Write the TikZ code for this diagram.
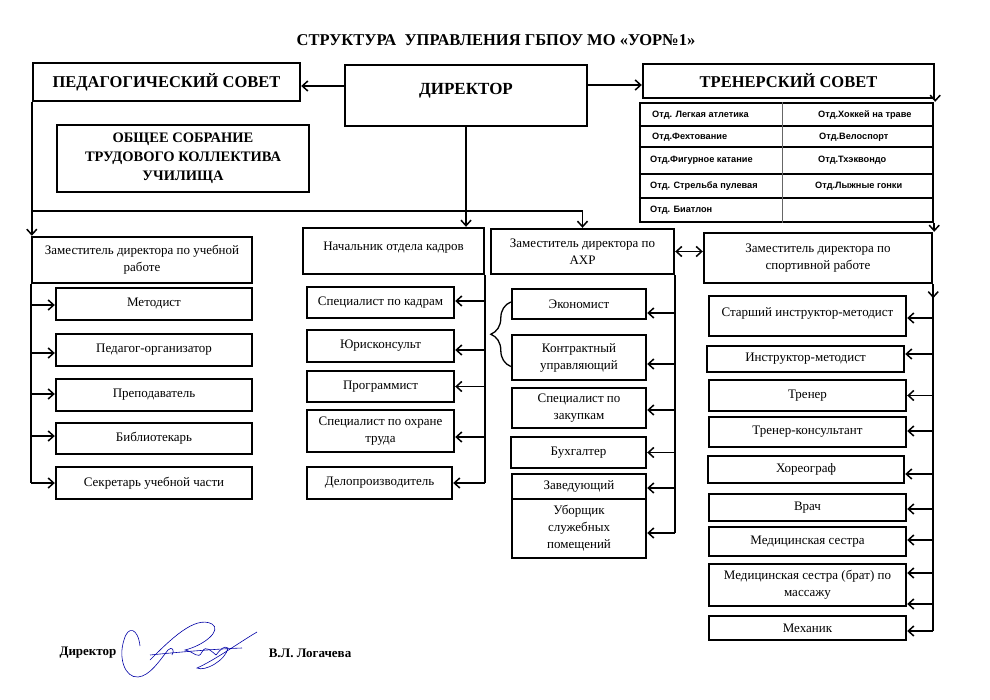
\documentclass[tikz,border=0pt]{standalone}
\usepackage{fontspec}
\setmainfont{Liberation Serif}
\newfontfamily\tabfont{Liberation Sans}
\usetikzlibrary{arrows.meta,decorations.pathreplacing}

\newcommand\mybox[7][]{%
  \node[box,minimum width={(#5-#3)*1pt},minimum height={(#6-#4)*1pt},#1] (#2) at ({(#3+#5)/2},{(#4+#6)/2}) {#7};}
\newcommand\sparrow[3]{%
  \path ([yshift=#3]#2) coordinate (tgt);
  \draw[arr] (tgt -| #1) -- (tgt);}

\begin{document}
\begin{tikzpicture}[x=1pt,y=-1pt,
  box/.style={draw,line width=2.4pt,inner sep=1pt,align=center,font=\fontsize{13}{17}\selectfont},
  hdr/.style={box,font=\bfseries\fontsize{16.5}{19}\selectfont},
  txtup/.style={text depth=#1},
  conn/.style={line width=1.5pt},
  bus/.style={line width=2.8pt},
  arr/.style={conn,-{Straight Barb[length=5.5pt,width=10pt,line width=1.5pt]}},
  arrtwo/.style={conn,{Straight Barb[length=5.5pt,width=10pt,line width=1.5pt]}-{Straight Barb[length=5.5pt,width=10pt,line width=1.5pt]}},
  cell/.style={font=\tabfont\bfseries\fontsize{9.2}{10}\selectfont,inner sep=0pt,anchor=west},
  sig/.style={draw=blue!65!black,line width=0.6pt},
  lbl/.style={font=\bfseries\fontsize{13}{14}\selectfont}
]
\fill[white] (0,0) rectangle (990,700);
\useasboundingbox (0,0) rectangle (990,700);

% title
\node[font=\bfseries\fontsize{16.5}{18}\selectfont] (title) at (496,40) {СТРУКТУРА\ \ УПРАВЛЕНИЯ ГБПОУ МО «УОР№1»};

% top level
\mybox[hdr]{ped}{33}{63}{300}{101}{ПЕДАГОГИЧЕСКИЙ СОВЕТ}
\mybox[hdr,txtup=13pt,font=\bfseries\fontsize{17}{19}\selectfont]{dir}{345}{65}{587}{126}{ДИРЕКТОР}
\mybox[hdr]{tr}{643}{64}{934}{98}{ТРЕНЕРСКИЙ СОВЕТ}
\mybox[box,font=\bfseries\fontsize{14.5}{19}\selectfont]{obs}{57}{125}{309}{192}{ОБЩЕЕ СОБРАНИЕ\\ТРУДОВОГО КОЛЛЕКТИВА\\УЧИЛИЩА}

% departments table
\node[draw,line width=2.4pt,minimum width=293pt,minimum height=119pt,inner sep=0pt] (tab) at (786.5,162.5) {};
\foreach \yy in {126,147,174,198}{
  \draw[line width=2pt] (tab.west |- 0,\yy) -- (tab.east |- 0,\yy);}
\draw[line width=0.7pt,black!60] (tab.north -| 782,0) -- (tab.south -| 782,0);
\node[cell] (c11) at (652,115) {Отд. Легкая атлетика};
\node[cell] (c21) at (652,137) {Отд.Фехтование};
\node[cell] (c31) at (650,160) {Отд.Фигурное катание};
\node[cell] (c41) at (650,186) {Отд. Стрельба пулевая};
\node[cell] (c51) at (650,210) {Отд. Биатлон};
\node[cell] (c12) at (818,115) {Отд.Хоккей на траве};
\node[cell] (c22) at (819,137) {Отд.Велоспорт};
\node[cell] (c32) at (818,160) {Отд.Тхэквондо};
\node[cell] (c42) at (815,186) {Отд.Лыжные гонки};

% second level
\mybox{zu}{32}{237}{252}{283}{Заместитель директора по учебной\\работе}
\mybox[txtup=8.7pt]{hr}{303}{228}{484}{274}{Начальник отдела кадров}
\mybox{axp}{491}{229}{674}{274}{Заместитель директора по\\АХР}
\mybox{sp}{704}{233}{932}{283}{Заместитель директора по\\спортивной работе}

% left column
\mybox{l1}{56}{288}{252}{320}{Методист}
\mybox{l2}{56}{334}{252}{366}{Педагог-организатор}
\mybox{l3}{56}{379}{252}{411}{Преподаватель}
\mybox{l4}{56}{423}{252}{454}{Библиотекарь}
\mybox{l5}{56}{467}{252}{499}{Секретарь учебной части}

% HR column
\mybox{k1}{307}{287}{454}{318}{Специалист по кадрам}
\mybox{k2}{307}{330}{454}{362}{Юрисконсульт}
\mybox{k3}{307}{371}{454}{402}{Программист}
\mybox{k4}{307}{410}{454}{452}{Специалист по охране\\труда}
\mybox{k5}{307}{467}{452}{499}{Делопроизводитель}

% AXP column
\mybox{a1}{512}{289}{646}{319}{Экономист}
\mybox{a2}{512}{335}{646}{380}{Контрактный\\управляющий}
\mybox{a3}{512}{388}{646}{428}{Специалист по\\закупкам}
\mybox{a4}{511}{437}{646}{468}{Бухгалтер}
\mybox{a5}{512}{474}{646}{499}{Заведующий}
\mybox{a6}{512}{499}{646}{558}{Уборщик\\служебных\\помещений}

% sport column
\mybox[txtup=8.7pt]{s1}{709}{296}{906}{336}{Старший инструктор-методист}
\mybox{s2}{707}{346}{904}{372}{Инструктор-методист}
\mybox{s3}{709}{380}{906}{411}{Тренер}
\mybox{s4}{709}{417}{906}{447}{Тренер-консультант}
\mybox{s5}{708}{456}{904}{483}{Хореограф}
\mybox{s6}{709}{494}{906}{521}{Врач}
\mybox{s7}{709}{527}{906}{556}{Медицинская сестра}
\mybox{s8}{709}{564}{906}{606}{Медицинская сестра (брат) по\\массажу}
\mybox{s9}{709}{616}{906}{640}{Механик}

% top connectors
\draw[arr] ([yshift=9.5pt]dir.west) -- ([yshift=9.5pt]dir.west -| ped.east);
\draw[arr] ([yshift=10.5pt]dir.east) -- ([yshift=10.5pt]dir.east -| tr.west);
\draw[arr] (tr.south east) -- (tr.south east |- tab.north);
\draw[arr] (tab.south east) -- (tab.south east |- sp.north);
\coordinate (busy) at (0,211);
\draw[arr] (ped.south west) -- (ped.south west |- zu.north);
\draw[bus] (busy -| ped.south west) -- (busy -| axp.north);
\draw[arr] (busy -| axp.north) -- (axp.north);
\draw[arr] (dir.south) -- (dir.south |- hr.north);
\draw[arrtwo] (axp.east) -- (axp.east -| sp.west);

% left spine
\draw[conn] (zu.south west) -- (zu.south west |- l5.west);
\sparrow{zu.south west}{l1.west}{-1pt}
\sparrow{zu.south west}{l2.west}{-3pt}
\sparrow{zu.south west}{l3.west}{1pt}
\sparrow{zu.south west}{l4.west}{2.5pt}
\sparrow{zu.south west}{l5.west}{0pt}

% HR spine
\draw[conn] (hr.south east) -- (hr.south east |- k5.east);
\sparrow{hr.south east}{k1.east}{1.5pt}
\sparrow{hr.south east}{k2.east}{-4pt}
\sparrow{hr.south east}{k3.east}{0pt}
\sparrow{hr.south east}{k4.east}{-6pt}
\sparrow{hr.south east}{k5.east}{0pt}

% AXP spine
\path ([yshift=-4.5pt]a6.east) coordinate (axpend);
\draw[conn] (axp.south east) -- (axp.south east |- axpend);
\sparrow{axp.south east}{a1.east}{-9pt}
\sparrow{axp.south east}{a2.east}{-6.5pt}
\sparrow{axp.south east}{a3.east}{-2pt}
\sparrow{axp.south east}{a4.east}{0pt}
\sparrow{axp.south east}{a5.east}{-1.5pt}
\sparrow{axp.south east}{a6.east}{-4.5pt}
\draw[line width=1.3pt,decorate,decoration={brace,amplitude=20pt}]
  ([yshift=-9pt]a2.west) -- ([yshift=2pt]a1.west);

% sport spine
\path ([yshift=-3pt]s9.east) coordinate (spend);
\draw[conn] (sp.south east) -- (sp.south east |- spend);
\draw[arr] (sp.south east) -- ++(0,14);
\sparrow{sp.south east}{s1.east}{-2pt}
\sparrow{sp.south east}{s2.east}{5pt}
\sparrow{sp.south east}{s3.east}{0pt}
\sparrow{sp.south east}{s4.east}{1pt}
\sparrow{sp.south east}{s5.east}{-4.5pt}
\sparrow{sp.south east}{s6.east}{-1.5pt}
\sparrow{sp.south east}{s7.east}{1.5pt}
\sparrow{sp.south east}{s8.east}{12pt}
\sparrow{sp.south east}{s8.east}{-19pt}
\sparrow{sp.south east}{s9.east}{-3pt}

% signature
\node[lbl] (signlbl) at (88,653) {Директор};
\node[lbl] (signname) at (310,653) {В.Л. Логачева};
\draw[sig] (140,646) .. controls (138,628) and (128,625) .. (124,640)
  .. controls (118,658) and (125,678) .. (138,677)
  .. controls (150,676) and (160,660) .. (168,650)
  .. controls (172,646) and (175,650) .. (172,655);
\draw[sig] (150,660) .. controls (170,640) and (195,615) .. (212,624)
  .. controls (222,630) and (205,645) .. (185,650)
  .. controls (195,652) and (198,660) .. (202,652)
  .. controls (206,644) and (212,652) .. (216,655)
  .. controls (220,650) and (224,645) .. (228,648)
  .. controls (226,660) and (205,672) .. (197,668)
  .. controls (215,660) and (240,642) .. (257,632);
\draw[sig] (150,655) .. controls (180,652) and (215,649) .. (242,648);
\end{tikzpicture}
\end{document}
